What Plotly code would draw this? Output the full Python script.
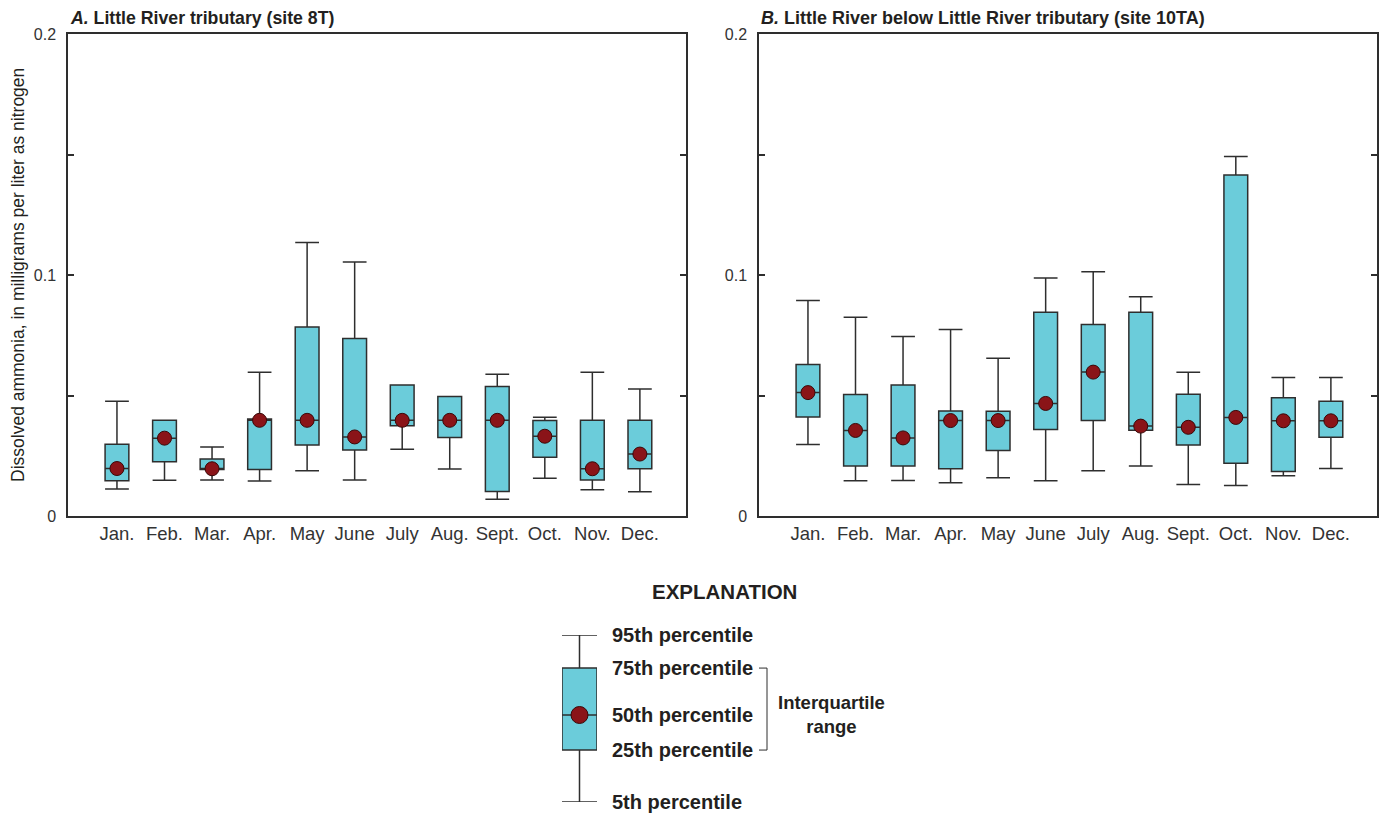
import plotly.graph_objects as go

months = ["Jan.", "Feb.", "Mar.", "Apr.", "May", "June", "July", "Aug.", "Sept.", "Oct.", "Nov.", "Dec."]

# Panel A: Little River tributary (site 8T)
a_p5 = [0.0112, 0.0148, 0.0149, 0.0145, 0.0188, 0.0149, 0.0277, 0.0195, 0.0070, 0.0157, 0.0109, 0.0101]
a_p25 = [0.0146, 0.0225, 0.0193, 0.0193, 0.0295, 0.0274, 0.0375, 0.0326, 0.0102, 0.0244, 0.0149, 0.0196]
a_p50 = [0.0197, 0.0323, 0.0196, 0.0397, 0.0397, 0.0328, 0.0397, 0.0397, 0.0397, 0.0331, 0.0196, 0.0257]
a_p75 = [0.0298, 0.0397, 0.0237, 0.0403, 0.0784, 0.0736, 0.0544, 0.0496, 0.0537, 0.0396, 0.0397, 0.0397]
a_p95 = [0.0476, 0.0397, 0.0286, 0.0596, 0.1135, 0.1054, 0.0544, 0.0496, 0.0588, 0.0410, 0.0596, 0.0527]

# Panel B: Little River below Little River tributary (site 10TA)
b_p5 = [0.0297, 0.0146, 0.0147, 0.0138, 0.0159, 0.0146, 0.0188, 0.0207, 0.0131, 0.0127, 0.0167, 0.0197]
b_p25 = [0.0411, 0.0207, 0.0207, 0.0196, 0.0272, 0.0359, 0.0396, 0.0356, 0.0295, 0.0219, 0.0185, 0.0327]
b_p50 = [0.0512, 0.0355, 0.0324, 0.0396, 0.0396, 0.0467, 0.0597, 0.0373, 0.0368, 0.0409, 0.0395, 0.0395]
b_p75 = [0.0629, 0.0504, 0.0544, 0.0436, 0.0435, 0.0845, 0.0795, 0.0845, 0.0505, 0.1415, 0.0491, 0.0476]
b_p95 = [0.0894, 0.0825, 0.0745, 0.0774, 0.0655, 0.0988, 0.1013, 0.0910, 0.0596, 0.1492, 0.0575, 0.0575]

y_tickvals = [0, 0.05, 0.1, 0.15, 0.2]
y_ticktext = ["0", "", "0.1", "", "0.2"]

# Explanation (schematic box, relative units)
expl_labels = ["5th percentile", "25th percentile", "50th percentile", "75th percentile", "95th percentile"]
expl_values = [0.0, 0.311, 0.521, 0.802, 1.0]

BOX_FILL = "#6BCCDA"
LINE = "#2E2E2E"
DOT = "#8A1418"
DOT_EDGE = "#3A0808"
TXT = "#231F20"
NARROW = "Liberation Sans Narrow, Arial Narrow, sans-serif"
REG = "Liberation Sans, Arial, sans-serif"

fig = go.Figure()


def add_panel(xa, ya, p5, p25, p50, p75, p95):
    fig.add_trace(go.Box(
        x=months, lowerfence=p5, q1=p25, median=p50, q3=p75, upperfence=p95,
        xaxis=xa, yaxis=ya, fillcolor=BOX_FILL,
        line=dict(color=LINE, width=1.5), width=0.5, whiskerwidth=1,
        boxpoints=False, hoverinfo="skip", showlegend=False,
    ))
    fig.add_trace(go.Scatter(
        x=months, y=p50, mode="markers", xaxis=xa, yaxis=ya,
        marker=dict(size=14, color=DOT, line=dict(color=DOT_EDGE, width=1)),
        hoverinfo="skip", showlegend=False,
    ))


add_panel("x", "y", a_p5, a_p25, a_p50, a_p75, a_p95)
add_panel("x2", "y2", b_p5, b_p25, b_p50, b_p75, b_p95)

# Explanation box
fig.add_trace(go.Box(
    x=[0], lowerfence=[expl_values[0]], q1=[expl_values[1]], median=[expl_values[2]],
    q3=[expl_values[3]], upperfence=[expl_values[4]],
    xaxis="x3", yaxis="y3", fillcolor=BOX_FILL,
    line=dict(color=LINE, width=1.5), width=1, whiskerwidth=1,
    boxpoints=False, hoverinfo="skip", showlegend=False,
))
fig.add_trace(go.Scatter(
    x=[0], y=[expl_values[2]], mode="markers", xaxis="x3", yaxis="y3",
    marker=dict(size=17, color=DOT, line=dict(color=DOT_EDGE, width=1)),
    hoverinfo="skip", showlegend=False,
))

W, H = 1390, 819
ydom = [1 - 516 / H, 1 - 34 / H]

xcommon = dict(
    type="category", range=[-1.03, 11.97], showline=True, mirror=True,
    linecolor=LINE, linewidth=1.5, ticks="", showgrid=False, zeroline=False,
    tickfont=dict(family=NARROW, size=18.5, color="#333333"), fixedrange=True,
    automargin=False,
)
ycommon = dict(
    range=[0, 0.2], tickvals=y_tickvals, ticktext=y_ticktext, ticks="inside",
    ticklen=6, tickwidth=1.5, tickcolor=LINE, mirror="allticks", showline=True,
    linecolor=LINE, linewidth=1.5, showgrid=False, zeroline=False,
    tickfont=dict(family=NARROW, size=16, color="#333333"), ticklabelstandoff=7,
    domain=ydom, fixedrange=True, automargin=False,
)

fig.update_layout(
    width=W, height=H, margin=dict(l=0, r=0, t=0, b=0, autoexpand=False),
    paper_bgcolor="white", plot_bgcolor="white", showlegend=False,
    xaxis=dict(xcommon, domain=[68 / W, 686 / W], anchor="y"),
    yaxis=dict(ycommon, anchor="x"),
    xaxis2=dict(xcommon, domain=[759 / W, 1377 / W], anchor="y2"),
    yaxis2=dict(ycommon, anchor="x2"),
    xaxis3=dict(domain=[562 / W, 597 / W], range=[-0.5, 0.5], visible=False,
                anchor="y3", fixedrange=True, automargin=False),
    yaxis3=dict(domain=[1 - 802 / H, 1 - 635 / H], range=[0, 1], anchor="x3",
                side="right", showline=False, showgrid=False, zeroline=False,
                ticks="", tickvals=expl_values,
                ticktext=["<b>%s</b>" % t for t in expl_labels],
                tickfont=dict(family=REG, size=20, color=TXT),
                ticklabelstandoff=14, fixedrange=True, automargin=False),
)

annotations = [
    dict(text="<b><i>A.</i> Little River tributary (site 8T)</b>",
         x=68 / W, y=1 - 18 / H, xref="paper", yref="paper", xanchor="left",
         yanchor="middle", showarrow=False, font=dict(family=REG, size=17.7, color=TXT)),
    dict(text="<b><i>B.</i> Little River below Little River tributary (site 10TA)</b>",
         x=759 / W, y=1 - 18 / H, xref="paper", yref="paper", xanchor="left",
         yanchor="middle", showarrow=False, font=dict(family=REG, size=18, color=TXT)),
    dict(text="Dissolved ammonia, in milligrams per liter as nitrogen",
         x=18 / W, y=1 - 275 / H, xref="paper", yref="paper", textangle=-90,
         xanchor="center", yanchor="middle", showarrow=False,
         font=dict(family=REG, size=17.5, color=TXT)),
    dict(text="<b>EXPLANATION</b>", x=724 / W, y=1 - 591 / H, xref="paper", yref="paper",
         xanchor="center", yanchor="middle", showarrow=False,
         font=dict(family=REG, size=20.5, color=TXT)),
    dict(text="<b>Interquartile<br>range</b>", x=831 / W, y=expl_values[2],
         xref="paper", yref="y3", xanchor="center", yanchor="middle", showarrow=False,
         font=dict(family=REG, size=18.5, color=TXT)),
]
fig.update_layout(annotations=annotations)

bx0, bx1 = 759 / W, 767 / W
shapes = [
    dict(type="line", xref="paper", yref="y3", x0=bx0, x1=bx1, y0=expl_values[3], y1=expl_values[3],
         line=dict(color=LINE, width=1)),
    dict(type="line", xref="paper", yref="y3", x0=bx1, x1=bx1, y0=expl_values[1], y1=expl_values[3],
         line=dict(color=LINE, width=1)),
    dict(type="line", xref="paper", yref="y3", x0=bx0, x1=bx1, y0=expl_values[1], y1=expl_values[1],
         line=dict(color=LINE, width=1)),
]
fig.update_layout(shapes=shapes)

fig.write_html("out.html")
